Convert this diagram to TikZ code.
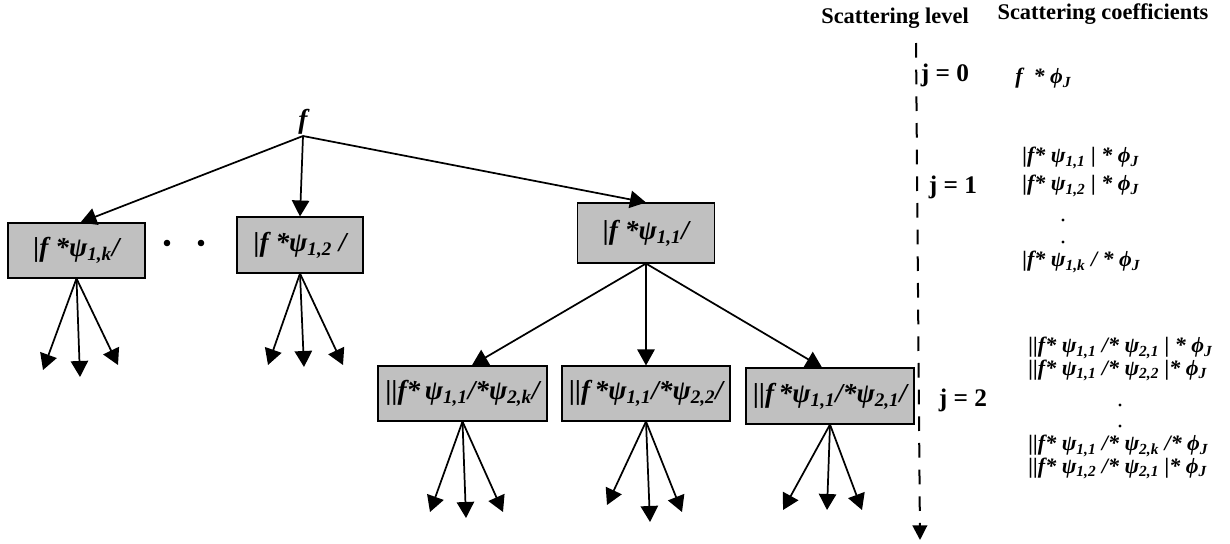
\documentclass[tikz,border=0pt]{standalone}
\usepackage{fontspec}
\setmainfont{Liberation Serif}
\usetikzlibrary{arrows.meta}
\definecolor{boxgray}{RGB}{192,192,192}
\newcommand{\boxfont}{\fontsize{20.5}{23}\selectfont\bfseries\itshape}
\newcommand{\coeffont}{\fontsize{16.5}{15.5}\selectfont\bfseries\itshape}
\newcommand{\headfont}{\fontsize{16.8}{18}\selectfont\bfseries}
\newcommand{\lvlfont}{\fontsize{19}{21}\selectfont\bfseries}
\newcommand{\sbs}[1]{\textsubscript{#1}}
\tikzset{
  box/.style={draw=black, line width=0.8pt, fill=boxgray, inner sep=0pt, font=\boxfont},
  arr/.style={-{Triangle[length=12pt,width=13pt]}, line width=1.3pt},
  coef/.style={anchor=north west, font=\coeffont, inner sep=0pt, align=left},
  lvl/.style={font=\lvlfont, inner sep=0pt},
  head/.style={font=\headfont, inner sep=0pt},
  levelline/.style={line width=1.5pt, dash pattern=on 11pt off 9pt, -{Triangle[length=11pt,width=11pt]}},
  bigdot/.style={fill=black},
}
\begin{document}
\begin{tikzpicture}[x=0.75pt,y=-0.75pt]
\useasboundingbox (0,0) rectangle (1230,543);
% root
\node[font=\boxfont, anchor=south, inner sep=1pt] (f) at (303,136) {f};
% level 1 boxes
\node[box, minimum width=102.75pt, minimum height=41.25pt] (A) at (76.5,250.5) {|f *ψ\sbs{1,k}/};
\node[box, minimum width=94.5pt, minimum height=42pt] (B) at (300,245) {|f *ψ\sbs{1,2} /};
\node[box, minimum width=102.75pt, minimum height=45pt] (C) at (646,233) {|f *ψ\sbs{1,1}/};
% level 2 boxes
\node[box, minimum width=126.75pt, minimum height=41.25pt] (D) at (462.5,393.5) {||f*\,ψ\sbs{1,1}/*ψ\sbs{2,k}/};
\node[box, minimum width=126pt, minimum height=41.25pt] (E) at (646,393.5) {||f\,*ψ\sbs{1,1}/*ψ\sbs{2,2}/};
\node[box, minimum width=126pt, minimum height=42pt] (F) at (830,396) {||f\,*ψ\sbs{1,1}/*ψ\sbs{2,1}/};
% dots between A and B
\fill[bigdot] (167,243) circle (3.3);
\fill[bigdot] (201,243) circle (3.3);
% root arrows
\draw[arr] (f.south) -- ([xshift=3pt]A.north);
\draw[arr] (f.south) -- (B.north);
\draw[arr] (f.south) -- (C.north);
% C to level 2
\draw[arr] (C.south) -- ([xshift=7pt]D.north);
\draw[arr] (C.south) -- (E.north);
\draw[arr] (C.south) -- ([xshift=-6pt]F.north);
% leaf coordinates
\coordinate (a1) at (43,370); \coordinate (a2) at (80,377); \coordinate (a3) at (118,365);
\coordinate (b1) at (268,365); \coordinate (b2) at (304,367); \coordinate (b3) at (343,365);
\coordinate (d1) at (430,512); \coordinate (d2) at (466,518); \coordinate (d3) at (503,512);
\coordinate (e1) at (607,505); \coordinate (e2) at (650,522); \coordinate (e3) at (682,512);
\coordinate (g1) at (783,510); \coordinate (g2) at (827,510); \coordinate (g3) at (862,510);
\foreach \n in {a1,a2,a3} \draw[arr] (A.south) -- (\n);
\foreach \n in {b1,b2,b3} \draw[arr] (B.south) -- (\n);
\foreach \n in {d1,d2,d3} \draw[arr] (D.south) -- (\n);
\foreach \n in {e1,e2,e3} \draw[arr] (E.south) -- (\n);
\foreach \n in {g1,g2,g3} \draw[arr] (F.south) -- (\n);
% scattering level axis
\coordinate (ltop) at (916,43);
\coordinate (lbot) at (920,540);
\draw[levelline] (ltop) -- (lbot);
% headings
\node[head] (hl) at (895,18) {Scattering level};
\node[head] (hc) at (1103,14) {Scattering coefficients};
% levels
\node[lvl] (j0) at (945,75) {j = 0};
\node[lvl] (j1) at (953,187) {j = 1};
\node[lvl] (j2) at (963,400) {j = 2};
% coefficients
\node[coef] (c0) at (1015,68) {f \ * ϕ\sbs{J}};
\node[coef] (c1a) at (1022,147) {|f* ψ\sbs{1,1} | * ϕ\sbs{J}\\[4pt]|f* ψ\sbs{1,2} | * ϕ\sbs{J}};
\fill (1063,220) circle (1.7);
\fill (1063,242) circle (1.7);
\node[coef] (c1k) at (1022,251) {|f* ψ\sbs{1,k} / * ϕ\sbs{J}};
\node[coef] (c2a) at (1028,337) {||f* ψ\sbs{1,1} /* ψ\sbs{2,1} | * ϕ\sbs{J}\\||f* ψ\sbs{1,1} /* ψ\sbs{2,2} |* ϕ\sbs{J}};
\fill (1120,405) circle (1.7);
\fill (1120,426) circle (1.7);
\node[coef] (c2b) at (1028,435) {||f* ψ\sbs{1,1} /* ψ\sbs{2,k} /* ϕ\sbs{J}\\||f* ψ\sbs{1,2} /* ψ\sbs{2,1} |* ϕ\sbs{J}};
\end{tikzpicture}
\end{document}
